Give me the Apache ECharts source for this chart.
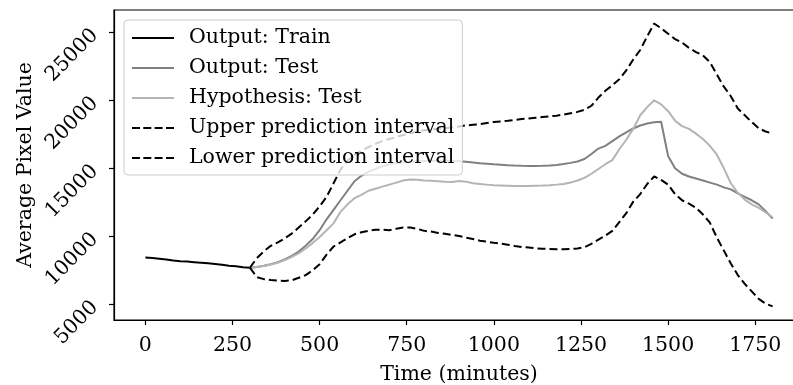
<!DOCTYPE html>
<html>
<head>
<meta charset="utf-8">
<script src="https://cdn.jsdelivr.net/npm/echarts@6/dist/echarts.min.js"></script>
<style>
  html, body { margin: 0; padding: 0; background: #ffffff; }
  #chart { width: 793px; height: 385px; }
</style>
</head>
<body>
<div id="chart"></div>
<script>
// Training window (minutes) and its observed average pixel value
const trainTimes = [0, 20, 40, 60, 80, 100, 120, 140, 160, 180, 200, 220, 240, 260, 280, 300];
const trainValues = [8450, 8400, 8350, 8290, 8220, 8170, 8140, 8100, 8060, 8010, 7960, 7900, 7840, 7790, 7730, 7690];

// Test window (minutes)
const testTimes = [
  300, 320, 340, 360, 380, 400, 420, 440, 460, 480,
  500, 520, 540, 560, 580, 600, 620, 640, 660, 680,
  700, 720, 740, 760, 780, 800, 820, 840, 860, 880,
  900, 920, 940, 960, 980, 1000, 1020, 1040, 1060, 1080,
  1100, 1120, 1140, 1160, 1180, 1200, 1220, 1240, 1260, 1280,
  1300, 1320, 1340, 1360, 1380, 1400, 1420, 1440, 1460, 1480,
  1500, 1520, 1540, 1560, 1580, 1600, 1620, 1640, 1660, 1680,
  1700, 1720, 1740, 1760, 1780, 1800
];

const outputTest = [
  7690, 7740, 7830, 7950, 8100, 8300, 8560, 8880, 9300, 9800,
  10450, 11250, 11950, 12650, 13350, 14050, 14450, 14750, 14950, 15150,
  15280, 15380, 15430, 15480, 15520, 15540, 15560, 15560, 15550, 15540,
  15520, 15480, 15430, 15380, 15340, 15300, 15270, 15230, 15200, 15180,
  15170, 15170, 15180, 15200, 15250, 15320, 15400, 15500, 15680, 16050,
  16450, 16650, 17000, 17350, 17650, 17930, 18150, 18300, 18380, 18420,
  15900, 15000, 14600, 14400, 14250, 14100, 13950, 13800, 13600, 13450,
  13150, 12900, 12650, 12350, 11850, 11300
];

const hypothesisTest = [
  7690, 7740, 7820, 7930, 8060, 8250, 8480, 8750, 9100, 9500,
  9950, 10450, 10950, 11800, 12350, 12800, 13050, 13350, 13500, 13650,
  13800, 13950, 14100, 14180, 14150, 14100, 14080, 14050, 14020, 14000,
  14060, 14020, 13900, 13850, 13800, 13760, 13740, 13720, 13700, 13700,
  13700, 13720, 13730, 13760, 13800, 13850, 13950, 14100, 14300, 14600,
  14950, 15300, 15600, 16400, 17100, 17900, 18900, 19500, 20000, 19700,
  19200, 18500, 18100, 17900, 17550, 17150, 16650, 16000, 15000, 13900,
  13200, 12700, 12350, 12100, 11750, 11400
];

const upperInterval = [
  7690, 8400, 8900, 9300, 9550, 9850, 10200, 10650, 11100, 11600,
  12200, 12900, 13900, 14900, 15550, 16000, 16300, 16550, 16800, 17000,
  17150, 17300, 17450, 17570, 17700, 17800, 17850, 17900, 17950, 18000,
  18080, 18150, 18200, 18250, 18330, 18400, 18450, 18500, 18560, 18620,
  18670, 18720, 18770, 18820, 18870, 18950, 19050, 19150, 19300, 19600,
  20200, 20700, 21100, 21550, 22200, 23000, 23700, 24700, 25650, 25300,
  24900, 24500, 24250, 23850, 23550, 23300, 22800, 21900, 21000, 20300,
  19400, 18900, 18400, 17950, 17700, 17550
];

const lowerInterval = [
  7690, 7000, 6850, 6780, 6740, 6720, 6760, 6950, 7150, 7500,
  7950, 8650, 9250, 9550, 9850, 10150, 10300, 10400, 10480, 10480,
  10450, 10560, 10640, 10650, 10550, 10400, 10350, 10250, 10180, 10100,
  10020, 9900, 9800, 9680, 9600, 9530, 9470, 9380, 9290, 9220,
  9170, 9120, 9090, 9070, 9050, 9050, 9070, 9100, 9200, 9450,
  9750, 10050, 10400, 11050, 11700, 12550, 13100, 13850, 14400, 14150,
  13800, 13100, 12650, 12400, 12100, 11600, 11000, 9900, 8950, 8000,
  7150, 6500, 5950, 5400, 5050, 4850
];

// Tick positions
const xTicks = [0, 250, 500, 750, 1000, 1250, 1500, 1750];
const yTicks = [5000, 10000, 15000, 20000, 25000];

// Axis ranges: the frame spans a little past the data on every side
const xRange = [-90, 1890];
const yRange = [3846, 26640];

const seriesNames = [
  'Output: Train',
  'Output: Test',
  'Hypothesis: Test',
  'Upper prediction interval',
  'Lower prediction interval'
];

const FONT = 'DejaVu Serif';
const TEXT_SIZE = 20.5;
const SPINE = { color: '#000000', width: 1.2 };

const SOLID_ICON = 'path://M0,0h42v2.2h-42z';
const DASH_ICON = 'path://M0,0h8v2.2h-8zM11.3,0h8v2.2h-8zM22.6,0h8v2.2h-8zM34,0h8v2.2h-8z';

function pairs(times, values) {
  return times.map(function (t, i) { return [t, values[i]]; });
}

function lineSeries(name, data, color, dashed) {
  return {
    name: name,
    type: 'line',
    data: data,
    showSymbol: false,
    symbol: 'none',
    animation: false,
    lineStyle: {
      color: color,
      width: 2,
      type: dashed ? [8, 4] : 'solid'
    },
    itemStyle: { color: color }
  };
}

const textStyle = { fontFamily: FONT, fontSize: TEXT_SIZE, color: '#000000' };

const chart = echarts.init(document.getElementById('chart'), null, { renderer: 'canvas' });

chart.setOption({
  backgroundColor: '#ffffff',
  animation: false,
  grid: {
    left: 114,
    right: -11,
    top: 10,
    bottom: 65,
    containLabel: false,
    outerBoundsMode: 'none',
    show: true,
    borderColor: SPINE.color,
    borderWidth: SPINE.width,
    backgroundColor: 'transparent'
  },
  xAxis: {
    type: 'value',
    min: xRange[0],
    max: xRange[1],
    name: 'Time (minutes)',
    nameLocation: 'middle',
    nameGap: 44,
    nameMoveOverlap: false,
    nameTextStyle: textStyle,
    axisLine: { show: true, onZero: false, lineStyle: SPINE },
    splitLine: { show: false },
    axisTick: {
      show: true,
      inside: false,
      length: 5,
      customValues: xTicks,
      lineStyle: SPINE
    },
    axisLabel: Object.assign({
      customValues: xTicks,
      margin: 15,
      formatter: function (v) { return String(v); }
    }, textStyle)
  },
  yAxis: {
    type: 'value',
    min: yRange[0],
    max: yRange[1],
    name: 'Average Pixel Value',
    nameLocation: 'middle',
    nameGap: 78,
    nameRotate: 90,
    nameMoveOverlap: false,
    nameTextStyle: textStyle,
    axisLine: { show: true, onZero: false, lineStyle: SPINE },
    splitLine: { show: false },
    axisTick: {
      show: true,
      inside: false,
      length: 5,
      customValues: yTicks,
      lineStyle: SPINE
    },
    axisLabel: Object.assign({
      customValues: yTicks,
      rotate: 45,
      margin: 19,
      formatter: function (v) { return String(v); }
    }, textStyle)
  },
  legend: {
    data: seriesNames.map(function (n, i) {
      return { name: n, icon: i < 3 ? SOLID_ICON : DASH_ICON };
    }),
    orient: 'vertical',
    left: 124,
    top: 20,
    padding: [7, 8, 6, 8],
    itemWidth: 42,
    itemHeight: 22,
    itemGap: 8,
    backgroundColor: 'rgba(255,255,255,0.8)',
    borderColor: '#cccccc',
    borderWidth: 1,
    borderRadius: 4,
    selectedMode: false,
    itemStyle: { borderWidth: 0 },
    textStyle: Object.assign({ lineHeight: 22, padding: [0, 0, 0, 10] }, textStyle)
  },
  series: [
    lineSeries(seriesNames[0], pairs(trainTimes, trainValues), '#000000', false),
    lineSeries(seriesNames[1], pairs(testTimes, outputTest), '#808080', false),
    lineSeries(seriesNames[2], pairs(testTimes, hypothesisTest), '#b4b4b4', false),
    lineSeries(seriesNames[3], pairs(testTimes, upperInterval), '#000000', true),
    lineSeries(seriesNames[4], pairs(testTimes, lowerInterval), '#000000', true)
  ]
});
</script>
</body>
</html>
